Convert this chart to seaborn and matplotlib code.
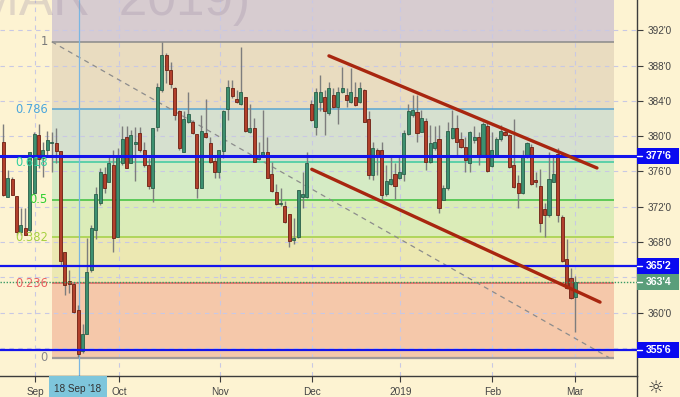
import matplotlib
matplotlib.use("Agg")
import matplotlib.pyplot as plt
import matplotlib.transforms as mtransforms
from matplotlib.patches import Rectangle
from matplotlib.lines import Line2D
import seaborn as sns
import numpy as np

sns.set_theme(style="white")
plt.rcParams['font.family'] = ['Liberation Sans', 'DejaVu Sans']

# ---------------- data ----------------
opens = [379.38, 373.15, 375.15, 373.19, 369.11, 369.64, 369.37, 373.53, 380.14, 377.5,
         378.44, 379.19, 379.19, 378.36, 366.84, 363.6, 363.22, 360.31, 355.66, 357.59,
         364.84, 369.37, 372.4, 375.68, 374.85, 376.74, 368.62, 376.93, 379.95, 376.93,
         379.15, 380.4, 378.44, 376.74, 374.17, 381.08, 385.24, 389.2, 387.5, 385.43,
         382.86, 378.17, 381.65, 381.65, 380.21, 374.17, 380.4, 379.19, 377.19, 375.91,
         378.33, 383.08, 385.43, 384.22, 383.61, 384.45, 380.52, 380.89, 377.42, 377.87,
         378.17, 375.68, 373.64, 372.28, 372.13, 371.15, 368.2, 368.62, 373.15, 373.15,
         383.65, 381.08, 383.84, 384.48, 382.59, 384.67, 383.35, 384.97, 384.67, 383.84,
         384.48, 383.92, 385.24, 381.95, 375.61, 378.44, 378.44, 373.42, 374.55, 375.68,
         375.31, 375.68, 380.21, 382.4, 382.71, 380.52, 381.73, 377.04, 378.63, 379.69,
         372.77, 374.1, 379.84, 380.97, 379.69, 378.82, 376.93, 379.57, 379.95, 377.87,
         381.2, 376.66, 377.8, 379.69, 380.52, 380.14, 376.74, 374.66, 373.53, 377.68,
         378.82, 374.97, 374.4, 371.75, 371.07, 374.85, 377.95, 370.89, 366.09, 363.9,
         361.82]
highs = [381.35, 376.17, 375.42, 373.19, 371.91, 371.83, 378.17, 380.52, 381.35, 379.38,
         380.59, 380.52, 380.89, 378.36, 366.84, 364.84, 363.52, 360.88, 358.69, 368.43,
         369.94, 374.28, 376.36, 376.55, 377.68, 378.44, 378.63, 381.2, 381.2, 380.71,
         381.08, 381.08, 379.38, 377.5, 380.89, 385.99, 390.71, 389.39, 388.45, 385.62,
         382.97, 382.86, 384.97, 381.84, 380.21, 382.4, 384.22, 379.95, 377.8, 378.44,
         382.97, 386.37, 386.37, 385.24, 390.15, 384.48, 383.61, 382.1, 379.38, 382.97,
         379.95, 377.12, 374.55, 374.17, 372.66, 371.15, 370.7, 373.91, 375.98, 378.25,
         384.1, 385.43, 386.94, 385.24, 386.18, 385.43, 385.62, 387.88, 385.43, 387.69,
         386.18, 386.18, 385.35, 382.86, 379.31, 378.63, 379.38, 376.74, 377.68, 376.93,
         377.68, 380.71, 383.61, 384.67, 384.67, 382.97, 382.03, 381.27, 381.2, 381.27,
         374.47, 381.65, 382.97, 382.4, 380.52, 379.95, 380.59, 381.2, 380.44, 381.65,
         381.57, 380.44, 379.95, 381.27, 380.89, 380.21, 381.95, 375.61, 378.44, 379.38,
         379.08, 375.98, 376.29, 372.47, 378.17, 377.68, 378.63, 371.07, 368.36, 365.03,
         364.2]
lows = [373.27, 373.15, 373.34, 368.81, 368.81, 368.81, 369.19, 373.53, 376.36, 375.42,
        377.87, 375.98, 376.93, 365.41, 362.01, 362.2, 359.93, 355.02, 355.4, 357.59,
        364.58, 368.36, 372.21, 373.53, 374.85, 366.92, 368.62, 376.74, 376.36, 376.93,
        374.93, 378.25, 376.55, 374.02, 372.59, 380.59, 385.05, 385.99, 385.43, 381.84,
        378.44, 378.17, 381.46, 380.21, 372.96, 374.1, 379.76, 376.93, 375.23, 375.23,
        377.5, 381.84, 384.29, 383.73, 383.54, 380.44, 380.33, 377.04, 377.31, 377.8,
        375.23, 373.72, 372.21, 372.13, 370.13, 367.49, 367.75, 368.43, 371.91, 372.96,
        381.73, 380.14, 382.86, 380.14, 382.4, 383.24, 381.35, 384.86, 383.35, 383.73,
        383.46, 383.73, 381.57, 375.15, 375.04, 375.61, 372.77, 373.27, 374.47, 372.89,
        375.15, 374.93, 380.14, 382.22, 379.31, 380.44, 376.17, 376.93, 378.44, 371.26,
        372.77, 373.91, 379.69, 377.87, 378.63, 375.98, 375.98, 379.19, 376.74, 377.68,
        375.98, 376.55, 377.68, 379.46, 380.06, 376.44, 374.17, 371.91, 373.42, 377.57,
        374.47, 374.28, 369.19, 368.62, 370.89, 374.78, 370.32, 365.79, 362.69, 361.56,
        357.78]
closes = [373.34, 375.31, 373.34, 369.11, 369.94, 368.81, 378.17, 380.21, 377.42, 378.44,
          379.57, 379.25, 378.36, 365.86, 363.14, 363.22, 360.12, 355.29, 357.59, 364.58,
          369.64, 373.42, 375.91, 374.17, 376.93, 368.43, 377.68, 379.69, 376.36, 380.14,
          379.38, 378.44, 376.74, 374.4, 380.89, 385.62, 389.2, 387.5, 385.88, 382.4,
          378.63, 381.95, 382.48, 380.33, 374.1, 380.59, 379.95, 377.12, 375.91, 378.44,
          382.86, 385.62, 384.6, 383.84, 384.97, 380.59, 380.89, 377.04, 377.87, 378.17,
          375.31, 373.79, 372.28, 372.47, 370.32, 368.13, 368.51, 373.91, 373.42, 376.93,
          381.84, 384.97, 384.97, 382.86, 385.43, 383.35, 384.97, 385.43, 384.1, 384.97,
          383.54, 385.43, 381.65, 375.61, 378.71, 377.68, 373.34, 374.93, 375.15, 374.4,
          375.98, 380.4, 382.86, 382.97, 380.33, 382.1, 377.04, 379.19, 379.38, 371.83,
          374.17, 380.59, 380.97, 379.31, 378.82, 377.31, 380.44, 379.95, 377.8, 381.35,
          376.06, 378.44, 379.69, 380.59, 380.14, 376.55, 374.28, 373.53, 377.8, 379.19,
          374.55, 374.85, 370.13, 371.07, 375.15, 375.68, 371.07, 365.86, 362.76, 361.63,
          363.52]

month_labels = ["Sep", "Oct", "Nov", "Dec", "2019", "Feb", "Mar"]
month_pos = [7.2, 26.3, 49.3, 70.2, 90.2, 111.1, 129.9]
marker_label = "18 Sep '18"
marker_pos = 17.2

fib_high = 390.7
fib_low = 354.9
fib_ratios = [1, 0.786, 0.618, 0.5, 0.382, 0.236, 0]
fib_texts = ["1", "0.786", "0.618", "0.5", "0.382", "0.236", "0"]
fib_start, fib_end = 11.0, 138.8

upper_trend_x = [74.0, 134.9]
upper_trend_y = [389.1, 376.4]
lower_trend_x = [70.1, 135.6]
lower_trend_y = [376.25, 361.2]

levels = [377.75, 365.25, 355.75]
level_texts = ["377'6", "365'2", "355'6"]
last_price = 363.5
last_text = "363'4"
price_ticks = [360, 368, 372, 376, 380, 384, 388, 392]
grid_prices = [356, 360, 364, 368, 372, 376, 380, 384, 388, 392]
watermark = "(MAR  2019)"

# ---------------- styles ----------------
BG = "#fdf3d2"
band_colors = ["#d7ccd0", "#e9dcc0", "#d6e0cf", "#d5ebc5", "#dbecb8", "#ece8b2", "#f5c8aa"]
fib_line_colors = ["#8a8a8a", "#5aa6d2", "#3ccaa0", "#3cc03c", "#a2d042", "#e86060", "#a09a9a"]
fib_text_colors = ["#7a7a7a", "#4aa6dc", "#30d0a0", "#30d030", "#a6d040", "#e86060", "#8a8a8a"]

W, H = 680, 397
fig = plt.figure(figsize=(W / 100, H / 100), dpi=100)
fig.patch.set_facecolor(BG)
ax = fig.add_axes([0, 21 / H, 637 / W, 376 / H])
ax.set_facecolor(BG)

ymin, ymax = 352.83, 395.43
ax.set_ylim(ymin, ymax)
ax.set_xlim(-0.75, 144.0)

# Fibonacci bands
bounds = [ymax + 5] + [fib_low + r * (fib_high - fib_low) for r in fib_ratios]
for i, col in enumerate(band_colors):
    ax.fill_between([fib_start, fib_end], bounds[i + 1], bounds[i], color=col, lw=0, zorder=0.5)

# grid
for gp in grid_prices:
    ax.axhline(gp, color="#c8c8e4", lw=0.8, ls=(0, (4, 4)), zorder=1)
for mp in month_pos:
    ax.axvline(mp, color="#c8c8e4", lw=0.8, ls=(0, (4, 4)), zorder=1)

# fib lines and labels
for r, t, lc, tc in zip(fib_ratios, fib_texts, fib_line_colors, fib_text_colors):
    yv = fib_low + r * (fib_high - fib_low)
    lw = 1.6 if r == 0 else 1.1
    ax.plot([fib_start, fib_end], [yv, yv], color=lc, lw=lw, zorder=1.5, solid_capstyle='butt')
    ax.text(10.15, yv, t, color=tc, fontsize=8.3, ha="right", va="center",
            family=["DejaVu Sans"], zorder=6)

# diagonal dashed line
ax.plot([fib_start, fib_end - 1.1], [fib_high, fib_low], color="#8c8c8c", lw=0.9,
        ls=(0, (4, 3.5)), zorder=2)

# marker vertical line
ax.axvline(marker_pos, color="#7ab6e2", lw=0.9, zorder=2)

# candles
x = np.arange(len(opens))
o = np.array(opens); h = np.array(highs); l = np.array(lows); c = np.array(closes)
up = c >= o
ax.vlines(x, l, h, color="#7d7d7d", lw=1.0, zorder=3)
bottoms = np.minimum(o, c)
heights = np.maximum(np.abs(c - o), 0.18)
ax.bar(x[up], heights[up], bottom=bottoms[up], width=0.7, color="#3d9070",
       edgecolor="#2a5e48", linewidth=0.6, zorder=4)
ax.bar(x[~up], heights[~up], bottom=bottoms[~up], width=0.7, color="#b2402c",
       edgecolor="#6e1f12", linewidth=0.6, zorder=4)

# horizontal levels
for lv in levels:
    lw = 2.2 if lv == levels[0] else 1.6
    ax.axhline(lv, color="#1414ec", lw=lw, zorder=5)
ax.axhline(last_price, color="#3a9a66", lw=1.0, ls=(0, (1, 1.2)), zorder=5)

# trend lines
ax.plot(upper_trend_x, upper_trend_y, color="#a8260f", lw=2.4, zorder=5.5, solid_capstyle='round')
ax.plot(lower_trend_x, lower_trend_y, color="#a8260f", lw=2.4, zorder=5.5, solid_capstyle='round')

# spines / ticks
for s in ["top", "left"]:
    ax.spines[s].set_visible(False)
ax.spines["right"].set_color("#3c3c3c")
ax.spines["bottom"].set_color("#3c3c3c")
ax.spines["right"].set_linewidth(1.0)
ax.spines["bottom"].set_linewidth(1.0)
ax.yaxis.tick_right()
ax.set_yticks(price_ticks)
ax.set_yticklabels([f"{int(p)}'0" for p in price_ticks])
ax.tick_params(axis="y", direction="out", length=4, width=0.8, color="#3c3c3c",
               labelsize=7.2, labelcolor="#444444", pad=4, right=True, left=False)
ax.set_xticks(month_pos + [marker_pos])
ax.set_xticklabels(month_labels + [""])
ax.tick_params(axis="x", direction="out", length=4, width=0.8, color="#3c3c3c",
               labelsize=7.2, labelcolor="#444444", pad=4, bottom=True)
ax.grid(False)

# right-side value boxes
blend = mtransforms.blended_transform_factory(ax.transAxes, ax.transData)
box_h = 16 / 8.825
def value_box(yv, txt, fc):
    ax.add_patch(Rectangle((1.0, yv - box_h / 2), 42 / 637, box_h, transform=blend,
                           facecolor=fc, edgecolor="none", clip_on=False, zorder=7))
    ax.add_line(Line2D([1.0, 1.0 + 5 / 637], [yv, yv], transform=blend, color="white",
                       lw=1.0, clip_on=False, zorder=8))
    ax.text(1.0 + 9 / 637, yv, txt, transform=blend, color="white", fontsize=7.6,
            fontweight="bold", ha="left", va="center", clip_on=False, zorder=8)
for lv, t in zip(levels, level_texts):
    value_box(lv, t, "#0a0af0")
value_box(last_price, last_text, "#5a9e7a")

# date marker box under axis
fig.patches.append(Rectangle((49 / W, 0), 58 / W, 21 / H, transform=fig.transFigure,
                             facecolor="#7ec6dc", edgecolor="none", zorder=5))
fig.text(78 / W, (H - 389) / H, marker_label, fontsize=7.2, color="#333333",
         ha="center", va="center", zorder=6)

# right separator continues to bottom
fig.lines.append(Line2D([637 / W, 637 / W], [0, 21 / H], transform=fig.transFigure,
                        color="#3c3c3c", lw=1.0))

# gear icon
fig.text(656 / W, (H - 388) / H, "\u263c", fontsize=13, color="#333333", ha="center",
         va="center", family=["DejaVu Sans"])

# watermark (partly above the top edge, as in the reference)
fig.text(250 / W, (H - 15.5) / H, watermark, fontsize=37, color="#a090a8", alpha=0.3,
         ha="right", va="baseline", zorder=1)

fig.savefig("out.png", dpi=100, facecolor=BG)
